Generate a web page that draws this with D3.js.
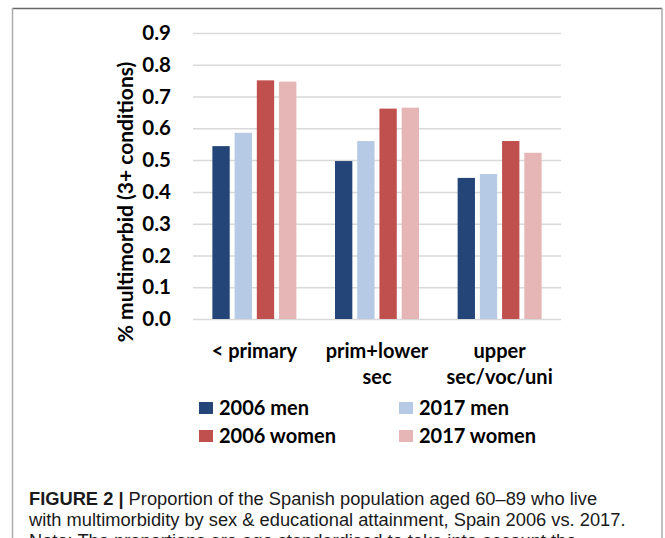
<!DOCTYPE html>
<html lang="en">
<head>
<meta charset="utf-8">
<title>Multimorbidity by education</title>
<script src="https://cdn.jsdelivr.net/npm/d3@7"></script>
<style>
  body { margin: 0; background: #fff; }
  .tick text { font-family: Lato, sans-serif; font-weight: 700; }
</style>
</head>
<body>
<script>
// data
let categories = [["< primary"], ["prim+lower", "sec"], ["upper", "sec/voc/uni"]];
let catKeys = ["< primary", "prim+lower sec", "upper sec/voc/uni"];
let series = ["2006 men", "2017 men", "2006 women", "2017 women"];
let colors = ["#234577", "#b6cae5", "#c0504d", "#e5b6b5"];
let values = [
  [0.544, 0.586, 0.751, 0.747],
  [0.497, 0.560, 0.662, 0.665],
  [0.444, 0.456, 0.560, 0.523]
];
let yTicks = [0, 0.1, 0.2, 0.3, 0.4, 0.5, 0.6, 0.7, 0.8, 0.9];
let captionLines = [
  "Proportion of the Spanish population aged 60\u201389 who live",
  "with multimorbidity by sex & educational attainment, Spain 2006 vs. 2017.",
  "Note: The proportions are age standardised to take into account the"
];

let w = 665, h = 538;
let plotLeft = 193, plotRight = 561, plotTop = 33, plotBottom = 319;

let svg = d3.select("body").append("svg")
  .attr("width", w)
  .attr("height", h);

// frame around the figure
svg.append("line").attr("x1", 12.5).attr("x2", 662).attr("y1", 8.5).attr("y2", 8.5)
  .attr("stroke", "#666").attr("stroke-width", 1.5);
svg.append("line").attr("x1", 12.5).attr("x2", 12.5).attr("y1", 8).attr("y2", h)
  .attr("stroke", "#aaa").attr("stroke-width", 1.5);
svg.append("line").attr("x1", 662).attr("x2", 662).attr("y1", 8).attr("y2", h)
  .attr("stroke", "#aaa").attr("stroke-width", 1.5);

let yScale = d3.scaleLinear().domain([0, 0.9]).range([plotBottom, plotTop]);

let x0 = d3.scaleBand().domain(catKeys).range([plotLeft, plotRight]).paddingInner(0.315).paddingOuter(0.158);
let x1 = d3.scaleBand().domain(series).range([0, x0.bandwidth()]).paddingInner(0.22);

// gridlines
let yAxis = d3.axisLeft(yScale)
  .tickValues(yTicks)
  .tickFormat(d3.format(".1f"))
  .tickSize(-(plotRight - plotLeft))
  .tickPadding(22);

let gy = svg.append("g")
  .attr("transform", "translate(" + plotLeft + ",0)")
  .call(yAxis);
gy.select(".domain").remove();
gy.selectAll(".tick line").attr("stroke", "#d9d9d9").attr("stroke-width", 1.5);
gy.selectAll(".tick text").attr("font-size", 20.5).attr("fill", "#000");

// bars
let groups = svg.selectAll("g.grp")
  .data(values)
  .enter()
  .append("g")
  .attr("class", "grp")
  .attr("transform", (d, i) => "translate(" + x0(catKeys[i]) + ",0)");

groups.selectAll("rect")
  .data((d) => d)
  .enter()
  .append("rect")
  .attr("x", (d, j) => x1(series[j]))
  .attr("y", (d) => yScale(d))
  .attr("width", x1.bandwidth())
  .attr("height", (d) => yScale(0) - yScale(d))
  .attr("fill", (d, j) => colors[j]);

// category labels
categories.forEach(function(lines, i) {
  let t = svg.append("text")
    .attr("x", x0(catKeys[i]) + x0.bandwidth() / 2)
    .attr("y", 358)
    .attr("text-anchor", "middle")
    .attr("font-family", "Lato, sans-serif")
    .attr("font-weight", 700)
    .attr("font-size", 20)
    .attr("fill", "#000");
  lines.forEach(function(l, k) {
    t.append("tspan")
      .attr("x", x0(catKeys[i]) + x0.bandwidth() / 2)
      .attr("dy", k == 0 ? 0 : 26)
      .text(l);
  });
});

// y axis title
svg.append("text")
  .attr("transform", "translate(133," + 202 + ") rotate(-90)")
  .attr("text-anchor", "middle")
  .attr("font-family", "Lato, sans-serif")
  .attr("font-weight", 700)
  .attr("font-size", 21)
  .attr("fill", "#000")
  .text("% multimorbid (3+ conditions)");

// legend
let legX = [199, 399];
let legY = [415, 443];
series.forEach(function(s, i) {
  let col = i % 2, row = Math.floor(i / 2);
  svg.append("rect")
    .attr("x", legX[col])
    .attr("y", legY[row] - 13)
    .attr("width", 14)
    .attr("height", 12)
    .attr("fill", colors[i]);
  svg.append("text")
    .attr("x", legX[col] + 20)
    .attr("y", legY[row])
    .attr("font-family", "Lato, sans-serif")
    .attr("font-weight", 700)
    .attr("font-size", 20)
    .attr("fill", "#000")
    .text(s);
});

// caption (third line is cut by the page edge, as in the original)
captionLines.forEach(function(line, i) {
  let t = svg.append("text")
    .attr("x", 29)
    .attr("y", 505 + i * 21)
    .attr("font-family", "'Liberation Sans', Arial, sans-serif")
    .attr("font-size", 18.3)
    .attr("fill", "#1a1a1a");
  if (i == 0) t.append("tspan").attr("font-weight", 700).text("FIGURE 2 | ");
  t.append("tspan").text(line);
});
</script>
</body>
</html>
